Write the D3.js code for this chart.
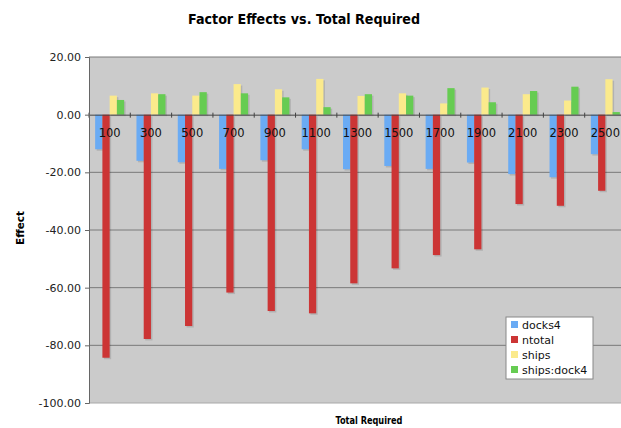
<!DOCTYPE html>
<html>
<head>
<meta charset="utf-8">
<script src="https://cdn.jsdelivr.net/npm/d3@7"></script>
<style>
  body { margin: 0; background: #fff; }
  svg { display: block; font-family: "DejaVu Sans", Verdana, sans-serif; }
</style>
</head>
<body>
<svg id="chart"></svg>
<script>
// data
const categories = ['100', '300', '500', '700', '900', '1100', '1300', '1500', '1700', '1900', '2100', '2300', '2500'];
const seriesNames = ['docks4', 'ntotal', 'ships', 'ships:dock4'];
const docks4 = [-12.0, -16.0, -16.5, -18.8, -15.8, -12.0, -18.9, -17.8, -18.8, -16.6, -20.6, -21.7, -13.7];
const ntotal = [-84.3, -77.8, -73.3, -61.7, -68.1, -68.9, -58.5, -53.3, -48.7, -46.7, -31.0, -31.6, -26.4];
const ships = [6.6, 7.4, 6.6, 10.6, 8.8, 12.4, 6.5, 7.4, 3.9, 9.4, 7.1, 4.9, 12.3];
const shipsDock4 = [5.1, 7.1, 7.8, 7.4, 6.0, 2.6, 7.1, 6.6, 9.2, 4.3, 8.2, 9.7, 0.9];
const yTicks = [20, 0, -20, -40, -60, -80, -100];
const colors = ['#6aabf4', '#cc3535', '#fbea8c', '#66cc52'];

const W = 621, H = 428;
const margin = { top: 57, right: -5, bottom: 25, left: 89 };
const innerW = W - margin.left - margin.right;
const innerH = H - margin.top - margin.bottom;

const svg = d3.select('#chart').attr('width', W).attr('height', H);
const chart = svg.append('g').attr('transform', `translate(${margin.left}, ${margin.top})`);

const xscale = d3.scaleBand().domain(categories).range([0, innerW]).paddingInner(0).paddingOuter(0);
const inner = d3.scaleBand().domain(seriesNames).range([0, 29]).padding(0);
const yscale = d3.scaleLinear().domain([-100, 20]).range([innerH, 0]);

const table = categories.map((c, i) => ({
  cat: c,
  values: [docks4[i], ntotal[i], ships[i], shipsDock4[i]]
}));

// plot background
chart.append('rect')
  .attr('width', innerW).attr('height', innerH)
  .attr('fill', '#cbcbcb');

// gridlines
chart.append('g')
  .selectAll('line')
  .data(yTicks.filter(d => d !== 0 && d !== -100))
  .join('line')
  .attr('x1', 0).attr('x2', innerW)
  .attr('y1', d => yscale(d)).attr('y2', d => yscale(d))
  .attr('stroke', '#7a7a7a').attr('stroke-width', 1);

chart.append('line')
  .attr('x1', 0).attr('x2', innerW)
  .attr('y1', innerH).attr('y2', innerH)
  .attr('stroke', '#a8a8a8');

// bars
const groups = chart.append('g')
  .selectAll('g')
  .data(table)
  .join('g')
  .attr('transform', d => `translate(${xscale(d.cat) + (xscale.bandwidth() - 29) / 2}, 0)`);

groups.selectAll('rect.shadow')
  .data(d => d.values.map((v, k) => ({ name: seriesNames[k], v })))
  .join('rect')
  .attr('class', 'shadow')
  .attr('x', d => inner(d.name) + 1.5)
  .attr('y', d => yscale(Math.max(0, d.v)) + 1.5)
  .attr('width', inner.bandwidth())
  .attr('height', d => Math.abs(yscale(d.v) - yscale(0)))
  .attr('fill', 'rgba(0,0,0,0.12)');

groups.selectAll('rect.bar')
  .data(d => d.values.map((v, k) => ({ name: seriesNames[k], v, k })))
  .join('rect')
  .attr('class', 'bar')
  .attr('x', d => inner(d.name))
  .attr('y', d => yscale(Math.max(0, d.v)))
  .attr('width', inner.bandwidth())
  .attr('height', d => Math.abs(yscale(d.v) - yscale(0)))
  .attr('fill', d => colors[d.k]);

// zero axis with category ticks
const xaxis = d3.axisBottom(xscale).tickSize(0).tickFormat('');
chart.append('g')
  .attr('transform', `translate(0, ${yscale(0)})`)
  .call(xaxis)
  .call(g => g.select('.domain').attr('stroke', '#444'));

chart.append('g')
  .selectAll('line')
  .data(categories)
  .join('line')
  .attr('x1', d => xscale(d)).attr('x2', d => xscale(d))
  .attr('y1', yscale(0) - 2).attr('y2', yscale(0) + 3)
  .attr('stroke', '#444');

chart.append('g')
  .selectAll('text')
  .data(categories)
  .join('text')
  .attr('x', d => xscale(d) + xscale.bandwidth() / 2)
  .attr('y', yscale(0) + 22)
  .attr('text-anchor', 'middle')
  .style('font-size', '11.5px')
  .attr('fill', '#111')
  .text(d => d);

// y axis
const fmt = d3.format('.2f');
const yaxis = d3.axisLeft(yscale).tickValues(yTicks).tickSize(4).tickPadding(4)
  .tickFormat(d => fmt(d).replace('\u2212', '-'));
chart.append('g')
  .call(yaxis)
  .call(g => g.select('.domain').attr('stroke', '#666'))
  .call(g => g.selectAll('.tick line').attr('stroke', '#666'))
  .call(g => g.selectAll('.tick text')
    .style('font-size', '11px')
    .style('font-family', '"DejaVu Sans", Verdana, sans-serif')
    .attr('fill', '#222'));

// titles
svg.append('text')
  .attr('x', 304).attr('y', 24)
  .attr('text-anchor', 'middle')
  .attr('textLength', 232).attr('lengthAdjust', 'spacingAndGlyphs')
  .style('font-size', '14px').style('font-weight', 'bold')
  .text('Factor Effects vs. Total Required');

svg.append('text')
  .attr('transform', `translate(24, 228) rotate(-90)`)
  .attr('text-anchor', 'middle')
  .attr('textLength', 34).attr('lengthAdjust', 'spacingAndGlyphs')
  .style('font-size', '11px').style('font-weight', 'bold')
  .text('Effect');

svg.append('text')
  .attr('x', 369).attr('y', 424)
  .attr('text-anchor', 'middle')
  .attr('textLength', 67).attr('lengthAdjust', 'spacingAndGlyphs')
  .style('font-family', '"DejaVu Sans Condensed", "Liberation Sans", sans-serif')
  .style('font-size', '10.5px').style('font-weight', 'bold')
  .text('Total Required');

// legend
const legend = svg.append('g').attr('transform', 'translate(506, 317)');
legend.append('rect')
  .attr('width', 87).attr('height', 62)
  .attr('fill', '#fff').attr('stroke', '#888');
const items = legend.selectAll('g')
  .data(seriesNames)
  .join('g')
  .attr('transform', (d, i) => `translate(5, ${8 + i * 15})`);
items.append('rect')
  .attr('y', -4).attr('width', 7).attr('height', 7)
  .attr('fill', (d, i) => colors[i]);
items.append('text')
  .attr('x', 11).attr('y', 4)
  .style('font-size', '11px')
  .attr('fill', '#111')
  .text(d => d);
</script>
</body>
</html>
